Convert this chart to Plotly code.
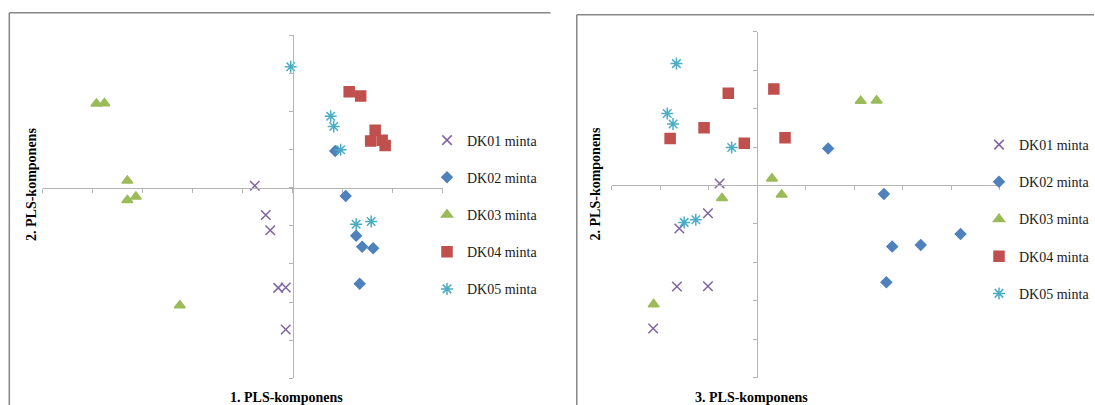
import plotly.graph_objects as go

W, H = 1095, 405

samples = ["DK01 minta", "DK02 minta", "DK03 minta", "DK04 minta", "DK05 minta"]

# PLS scores (6 replicates per sample)
dk01_pls1 = [-0.76, -0.54, -0.45, -0.29, -0.14, -0.14]
dk01_pls2 = [0.05, -0.72, -1.12, -2.63, -2.62, -3.72]
dk01_pls3 = [-0.78, -1.02, -1.61, -1.66, -1.02, -2.15]

dk02_pls1 = [0.85, 1.06, 1.27, 1.39, 1.61, 1.34]
dk02_pls2 = [0.96, -0.22, -1.26, -1.55, -1.59, -2.52]
dk02_pls3 = [1.46, 2.61, 4.19, 3.37, 2.78, 2.66]

dk03_pls1 = [-3.93, -3.77, -3.31, -3.14, -3.31, -2.26]
dk03_pls2 = [2.20, 2.21, 0.18, -0.24, -0.33, -3.09]
dk03_pls3 = [2.13, 2.46, 0.30, 0.50, -0.73, -2.14]

dk04_pls1 = [1.13, 1.36, 1.65, 1.56, 1.79, 1.85]
dk04_pls2 = [2.51, 2.40, 1.50, 1.22, 1.24, 1.10]
dk04_pls3 = [0.34, -0.60, -1.10, -1.80, 0.57, -0.27]

dk05_pls1 = [-0.04, 0.76, 0.82, 0.96, 1.27, 1.57]
dk05_pls2 = [3.17, 1.87, 1.60, 0.99, -0.96, -0.89]
dk05_pls3 = [-1.67, -1.86, -1.74, -0.53, -1.51, -1.27]

pls1 = [dk01_pls1, dk02_pls1, dk03_pls1, dk04_pls1, dk05_pls1]
pls2 = [dk01_pls2, dk02_pls2, dk03_pls2, dk04_pls2, dk05_pls2]
pls3 = [dk01_pls3, dk02_pls3, dk03_pls3, dk04_pls3, dk05_pls3]

colors = ["#8064A2", "#4F81BD", "#9BBB59", "#C0504D", "#4BACC6"]
symbols = ["x-thin-open", "diamond", "triangle-up", "square", "asterisk-open"]
sizes = [9.5, 8, 9.5, 10, 10]

x1_range = [-5, 3]
x3_range = [-3, 5]
y_range = [-5, 4]

dom_x1 = [43 / W, 443 / W]
dom_y1 = [1 - 378.3 / H, 1 - 35 / H]
dom_x2 = [612.5 / W, 1000.7 / W]
dom_y2 = [1 - 377.7 / H, 1 - 31.7 / H]


def zero_pos(rng, dom):
    return dom[0] + (0 - rng[0]) / (rng[1] - rng[0]) * (dom[1] - dom[0])


fig = go.Figure()
for i, name in enumerate(samples):
    marker = dict(color=colors[i], size=sizes[i], symbol=symbols[i],
                  line=dict(color=colors[i], width=1.5))
    fig.add_trace(go.Scatter(x=pls1[i], y=pls2[i], mode="markers", name=name,
                             marker=marker, xaxis="x", yaxis="y",
                             legend="legend", legendgroup=name + "a",
                             cliponaxis=False))
    fig.add_trace(go.Scatter(x=pls3[i], y=pls2[i], mode="markers", name=name,
                             marker=marker, xaxis="x2", yaxis="y2",
                             legend="legend2", legendgroup=name + "b",
                             cliponaxis=False))

axis_gray = "#B4B4B4"
common = dict(showgrid=False, zeroline=False, showline=True, linecolor=axis_gray,
              linewidth=1, ticks="outside", ticklen=4, tickcolor=axis_gray,
              tickwidth=1, showticklabels=False, tickmode="linear", tick0=0,
              dtick=1, anchor="free", fixedrange=True)

fig.update_layout(
    width=W, height=H,
    margin=dict(l=0, r=0, t=0, b=0),
    paper_bgcolor="white", plot_bgcolor="white",
    xaxis=dict(domain=dom_x1, range=x1_range,
               position=zero_pos(y_range, dom_y1), **common),
    yaxis=dict(domain=dom_y1, range=y_range,
               position=zero_pos(x1_range, dom_x1), **common),
    xaxis2=dict(domain=dom_x2, range=x3_range,
                position=zero_pos(y_range, dom_y2), **common),
    yaxis2=dict(domain=dom_y2, range=y_range,
                position=zero_pos(x3_range, dom_x2), **common),
    legend=dict(x=427 / W, y=1 - 124.5 / H, xanchor="left", yanchor="top",
                font=dict(family="Liberation Serif", size=14, color="#1a1a1a"),
                tracegroupgap=16, traceorder="grouped",
                bgcolor="rgba(0,0,0,0)", itemwidth=30),
    legend2=dict(x=980 / W, y=1 - 129 / H, xanchor="left", yanchor="top",
                 font=dict(family="Liberation Serif", size=14, color="#1a1a1a"),
                 tracegroupgap=16, traceorder="grouped",
                 bgcolor="rgba(0,0,0,0)", itemwidth=30),
    showlegend=True,
)

title_font = dict(family="Liberation Serif", size=14, color="black")
fig.add_annotation(text="<b>1. PLS-komponens</b>", x=287 / W, y=1 - 397 / H,
                   xref="paper", yref="paper", showarrow=False, font=title_font,
                   xanchor="center", yanchor="middle")
fig.add_annotation(text="<b>3. PLS-komponens</b>", x=752 / W, y=1 - 397 / H,
                   xref="paper", yref="paper", showarrow=False, font=title_font,
                   xanchor="center", yanchor="middle")
fig.add_annotation(text="<b>2. PLS-komponens</b>", x=31 / W, y=1 - 184 / H,
                   xref="paper", yref="paper", showarrow=False, font=title_font,
                   textangle=-90, xanchor="center", yanchor="middle")
fig.add_annotation(text="<b>2. PLS-komponens</b>", x=596 / W, y=1 - 184 / H,
                   xref="paper", yref="paper", showarrow=False, font=title_font,
                   textangle=-90, xanchor="center", yanchor="middle")

border = dict(color="#878787", width=1.5)
fig.add_shape(type="line", xref="paper", yref="paper", x0=9.3 / W, x1=551 / W,
              y0=1 - 12.7 / H, y1=1 - 12.7 / H, line=border)
fig.add_shape(type="line", xref="paper", yref="paper", x0=9.3 / W, x1=9.3 / W,
              y0=1 - 12.7 / H, y1=0, line=border)
fig.add_shape(type="line", xref="paper", yref="paper", x0=577.3 / W, x1=1,
              y0=1 - 14.7 / H, y1=1 - 14.7 / H, line=border)
fig.add_shape(type="line", xref="paper", yref="paper", x0=577.3 / W, x1=577.3 / W,
              y0=1 - 14.7 / H, y1=0, line=border)

fig.write_html("out.html")
